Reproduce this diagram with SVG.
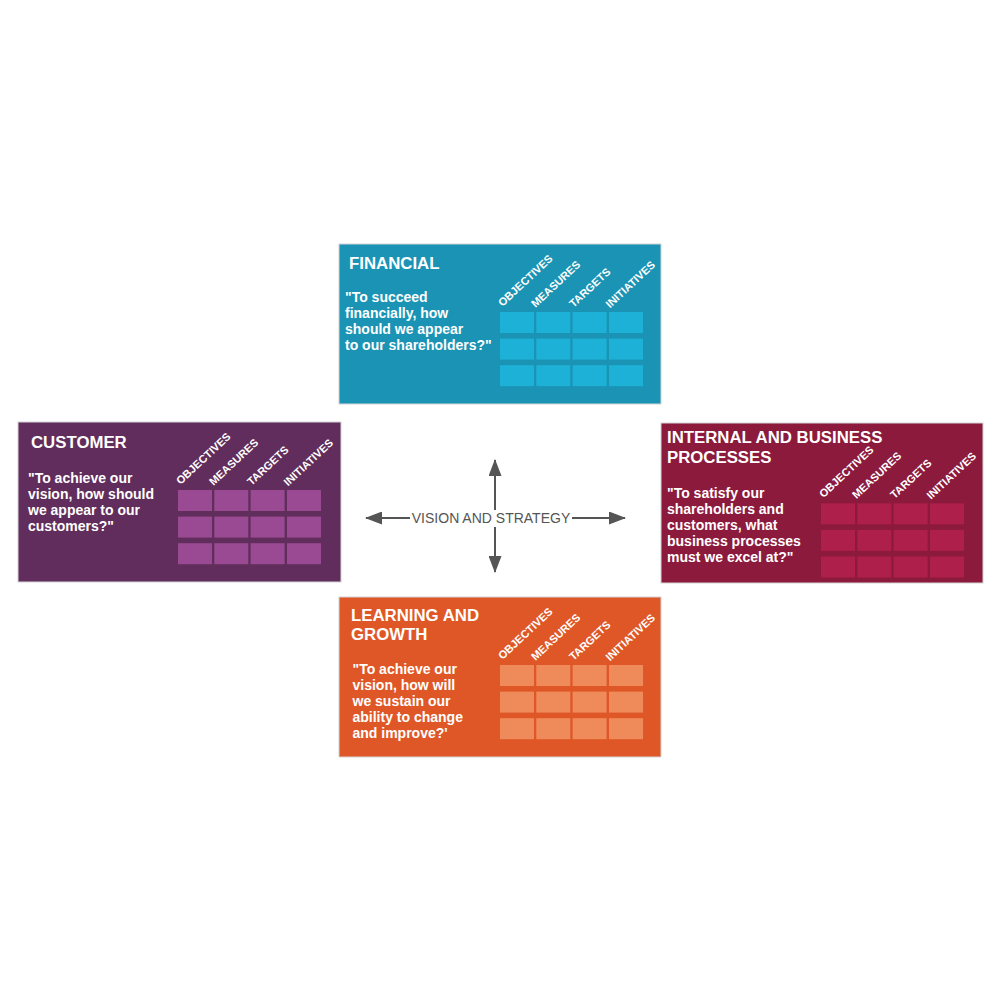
<svg xmlns="http://www.w3.org/2000/svg" width="1000" height="1000" viewBox="0 0 1000 1000">
<style>
.card{stroke:#d4d4d4;stroke-width:1}
.title{font-family:"Liberation Sans",Arial,sans-serif;font-weight:bold;font-size:16.8px;fill:#ffffff}
.quote{font-family:"Liberation Sans",Arial,sans-serif;font-weight:bold;font-size:14px;fill:#ffffff}
.lbl{font-family:"Liberation Sans",Arial,sans-serif;font-weight:bold;font-size:11px;fill:#ffffff}
.center{font-family:"Liberation Sans",Arial,sans-serif;font-size:14px;fill:#555555}
.conn{stroke:#555555;stroke-width:2;fill:none}
</style>
<defs>
<marker id="ah" viewBox="0 0 17 13" markerWidth="17" markerHeight="13" refX="16" refY="6.5" orient="auto" markerUnits="userSpaceOnUse">
<path d="M0,0 L17,6.5 L0,13 z" fill="#555555"/>
</marker>
<g id="grid">
<rect x="0" y="0" width="34" height="21"/><rect x="36.3" y="0" width="34" height="21"/><rect x="72.6" y="0" width="34" height="21"/><rect x="109" y="0" width="34" height="21"/>
<rect x="0" y="26.6" width="34" height="21"/><rect x="36.3" y="26.6" width="34" height="21"/><rect x="72.6" y="26.6" width="34" height="21"/><rect x="109" y="26.6" width="34" height="21"/>
<rect x="0" y="53.2" width="34" height="21"/><rect x="36.3" y="53.2" width="34" height="21"/><rect x="72.6" y="53.2" width="34" height="21"/><rect x="109" y="53.2" width="34" height="21"/>
<text class="lbl" transform="translate(2.5,-5) rotate(-43)">OBJECTIVES</text>
<text class="lbl" transform="translate(35.5,-4) rotate(-43)">MEASURES</text>
<text class="lbl" transform="translate(73.5,-4) rotate(-43)">TARGETS</text>
<text class="lbl" transform="translate(110,-3.5) rotate(-43)">INITIATIVES</text>
</g>
</defs>
<rect width="1000" height="1000" fill="#ffffff"/>

<g id="connectors">
<line class="conn" x1="495" y1="510" x2="495" y2="460" marker-end="url(#ah)"/>
<line class="conn" x1="495" y1="527" x2="495" y2="572" marker-end="url(#ah)"/>
<line class="conn" x1="410" y1="518" x2="366" y2="518" marker-end="url(#ah)"/>
<line class="conn" x1="572" y1="518" x2="625" y2="518" marker-end="url(#ah)"/>
</g>
<g id="vision">
<text class="center" x="491" y="523" text-anchor="middle">VISION AND STRATEGY</text>
</g>

<g id="financial">
<rect class="card" x="339" y="244" width="322" height="160" fill="#1a93b4"/>
<text class="title" x="349" y="269">FINANCIAL</text>
<text class="quote" x="345" y="302">"To succeed</text>
<text class="quote" x="345" y="318">financially, how</text>
<text class="quote" x="345" y="334">should we appear</text>
<text class="quote" x="345" y="350">to our shareholders?"</text>
<use href="#grid" x="500" y="312" fill="#1eb1d8"/>
</g>

<g id="customer">
<rect class="card" x="18" y="422" width="323" height="160" fill="#612d5c"/>
<text class="title" x="31" y="448">CUSTOMER</text>
<text class="quote" x="28" y="483">"To achieve our</text>
<text class="quote" x="28" y="499">vision, how should</text>
<text class="quote" x="28" y="515">we appear to our</text>
<text class="quote" x="28" y="531">customers?"</text>
<use href="#grid" x="178" y="490" fill="#9a4a92"/>
</g>

<g id="internal">
<rect class="card" x="661" y="423" width="322" height="160" fill="#8b1a3d"/>
<text class="title" x="667" y="443">INTERNAL AND BUSINESS</text>
<text class="title" x="667" y="462.5">PROCESSES</text>
<text class="quote" x="667" y="498">"To satisfy our</text>
<text class="quote" x="667" y="514">shareholders and</text>
<text class="quote" x="667" y="530">customers, what</text>
<text class="quote" x="667" y="546">business processes</text>
<text class="quote" x="667" y="562">must we excel at?"</text>
<use href="#grid" x="821" y="503.3" fill="#ae1f4b"/>
</g>

<g id="learning">
<rect class="card" x="339" y="597" width="322" height="160" fill="#df5727"/>
<text class="title" x="351" y="621">LEARNING AND</text>
<text class="title" x="351" y="640">GROWTH</text>
<text class="quote" x="352.5" y="674">"To achieve our</text>
<text class="quote" x="352.5" y="690">vision, how will</text>
<text class="quote" x="352.5" y="706">we sustain our</text>
<text class="quote" x="352.5" y="722">ability to change</text>
<text class="quote" x="352.5" y="738">and improve?'</text>
<use href="#grid" x="500" y="665" fill="#ef8a5a"/>
</g>
</svg>
